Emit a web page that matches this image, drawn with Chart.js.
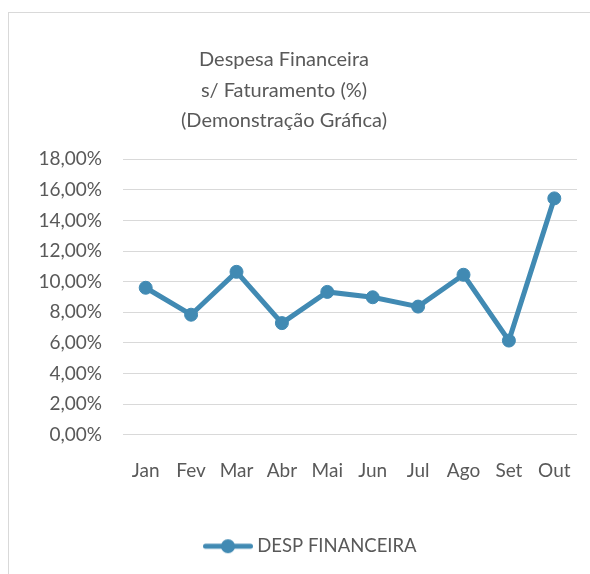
<!DOCTYPE html>
<html>
<head>
<meta charset="utf-8">
<script src="https://cdn.jsdelivr.net/npm/chart.js@4/dist/chart.umd.min.js"></script>
<style>
  html, body { margin: 0; padding: 0; background: #fff; overflow: hidden; }
  body { width: 590px; height: 574px; position: relative; }
  .moldura {
    position: absolute; left: 8px; top: 12px; width: 700px; height: 700px;
    border-left: 1px solid #d9d9d9; border-top: 1px solid #d9d9d9;
  }
  .grafico { position: absolute; left: -9px; top: 0; width: 599px; height: 574px; }
</style>
</head>
<body>
<div class="moldura"></div>
<div class="grafico"><canvas id="myChart" width="599" height="574"></canvas></div>
<script>
// ═══════════════════════════════════════
//  DADOS
// ═══════════════════════════════════════

const meses          = ['Jan', 'Fev', 'Mar', 'Abr', 'Mai', 'Jun', 'Jul', 'Ago', 'Set', 'Out'];
const despFinanceira = [0.0960, 0.0784, 0.1064, 0.0729, 0.0933, 0.0898, 0.0837, 0.1045, 0.0615, 0.1544];
const titulo         = ['Despesa Financeira', 's/ Faturamento (%)', '(Demonstração Gráfica)'];
const nomeSerie      = 'DESP FINANCEIRA';
const yMin = 0, yMax = 0.18, yPasso = 0.02;

const AZUL  = '#418ab3';
const TEXTO = '#595959';
const GRADE = '#d9d9d9';
const FONTE = "Lato, 'Open Sans', sans-serif";

// marcador da legenda (linha + bolinha), à direita da imagem
function marcadorLegenda() {
  const c = document.createElement('canvas');
  c.width = 257;
  c.height = 20;
  const g = c.getContext('2d');
  g.strokeStyle = AZUL;
  g.lineWidth = 5;
  g.lineCap = 'round';
  g.beginPath();
  g.moveTo(209.5, 10);
  g.lineTo(254.5, 10);
  g.stroke();
  g.fillStyle = AZUL;
  g.beginPath();
  g.arc(232, 10, 7, 0, Math.PI * 2);
  g.fill();
  return c;
}

// ═══════════════════════════════════════
//  GRÁFICO
// ═══════════════════════════════════════

const ctx = document.getElementById('myChart').getContext('2d');

new Chart(ctx, {
  type: 'line',
  data: {
    labels: meses,
    datasets: [{
      label: nomeSerie,
      data: despFinanceira,
      borderColor: AZUL,
      backgroundColor: AZUL,
      borderWidth: 5,
      pointRadius: 6.5,
      pointBorderWidth: 1,
      pointBackgroundColor: AZUL,
      pointBorderColor: AZUL,
      pointStyle: 'circle',
      tension: 0,
      fill: false
    }]
  },
  options: {
    responsive: false,
    animation: false,
    layout: { padding: { top: 0, left: 0, right: 13, bottom: 8.5 } },
    plugins: {
      title: {
        display: true,
        text: titulo,
        color: TEXTO,
        font: { family: FONTE, size: 20, weight: 'normal', lineHeight: 1.52 },
        padding: { top: 44.8, bottom: 23.2 }
      },
      legend: {
        position: 'bottom',
        align: 'start',
        labels: {
          color: TEXTO,
          font: { family: FONTE, size: 18.5 },
          padding: 10,
          usePointStyle: true,
          pointStyle: marcadorLegenda(),
          pointStyleWidth: 247
        }
      },
      tooltip: { enabled: false }
    },
    scales: {
      x: {
        offset: true,
        grid: { display: false },
        border: { display: false },
        ticks: {
          color: TEXTO,
          font: { family: FONTE, size: 19 },
          padding: 16.6,
          maxRotation: 0
        },
        afterFit: s => { s.height = 92.3; }
      },
      y: {
        min: yMin,
        max: yMax,
        grid: { color: GRADE, lineWidth: 1, drawTicks: false },
        border: { display: false },
        ticks: {
          stepSize: yPasso,
          color: TEXTO,
          font: { family: FONTE, size: 19 },
          padding: 21,
          callback: v => (v * 100).toFixed(2).replace('.', ',') + '%'
        },
        afterFit: s => { s.width = 132; }
      }
    }
  }
});
</script>
</body>
</html>
